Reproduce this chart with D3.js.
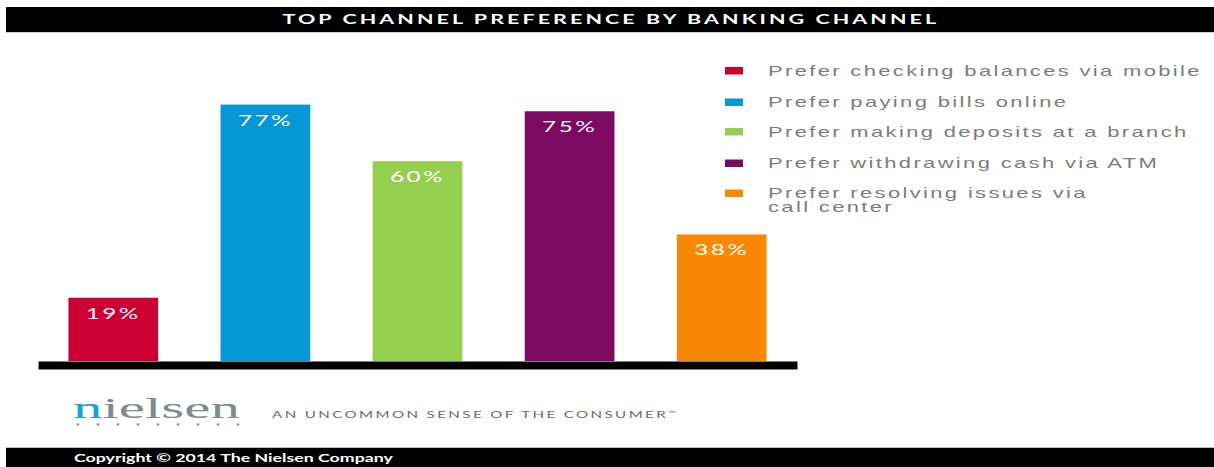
<!DOCTYPE html>
<html>
<head>
<meta charset="utf-8">
<script src="https://cdn.jsdelivr.net/npm/d3@7"></script>
<style>
  html, body { margin: 0; padding: 0; background: #fff; }
  svg { display: block; }
</style>
</head>
<body>
<svg id="chart" width="1214" height="467"></svg>
<script>
// ---- data ----
const title = "TOP CHANNEL PREFERENCE BY BANKING CHANNEL";
const categories = ["mobile", "online", "branch", "atm", "callcenter"];
const values = [19, 77, 60, 75, 38];
const legendLabels = [
  ["Prefer checking balances via mobile"],
  ["Prefer paying bills online"],
  ["Prefer making deposits at a branch"],
  ["Prefer withdrawing cash via ATM"],
  ["Prefer resolving issues via", "call center"]
];
const colors = ["#cc0033", "#0597d6", "#95cf4e", "#7c0a63", "#fa8804"];
const tagline = "AN UNCOMMON SENSE OF THE CONSUMER";
const copyright = "Copyright \u00A9 2014 The Nielsen Company";

// ---- setup ----
const svg = d3.select("#chart");
const W = 1214, H = 467;

// fit text horizontally to a target width by scaling x
function fitX(sel, x, y, width, anchor) {
  sel.attr("x", 0).attr("y", 0);
  const n = sel.node();
  const w = n.getComputedTextLength();
  const s = width / w;
  let tx = x;
  if (anchor === "middle") tx = x - width / 2;
  sel.attr("text-anchor", "start")
     .attr("transform", `translate(${tx},${y}) scale(${s},1)`);
}

// title bar
svg.append("rect").attr("x", 6).attr("y", 7).attr("width", W - 6).attr("height", 25).attr("fill", "#000");
svg.append("rect").attr("x", 6).attr("y", 32).attr("width", W - 6).attr("height", 1).attr("fill", "#cfcfcf");
const t = svg.append("text")
  .text(title)
  .attr("fill", "#fff")
  .style("font-family", "Lato, 'Open Sans', sans-serif")
  .style("font-weight", "700")
  .style("font-size", "14px")
  .style("letter-spacing", "2px");
fitX(t, 611, 24, 657, "middle");

// scales
const x = d3.scaleBand().domain(categories).range([38, 797]).paddingInner(0.41).paddingOuter(0.2);
const y = d3.scaleLinear().domain([0, 100]).range([361, 28]);

// bars
const g = svg.append("g");
g.selectAll("rect.bar")
  .data(categories)
  .join("rect")
  .attr("class", "bar")
  .attr("x", d => x(d))
  .attr("width", x.bandwidth())
  .attr("y", (d, i) => y(values[i]))
  .attr("height", (d, i) => y(0) - y(values[i]))
  .attr("fill", (d, i) => colors[i]);

// value labels
g.selectAll("text.val")
  .data(categories)
  .join("text")
  .attr("class", "val")
  .text((d, i) => values[i] + "%")
  .attr("fill", "#fff")
  .style("font-family", "Lato, 'Open Sans', sans-serif")
  .style("font-size", "15px")
  .style("letter-spacing", "1.5px")
  .each(function (d, i) {
    fitX(d3.select(this), x(d) + x.bandwidth() / 2, y(values[i]) + 21, 55, "middle");
  });

// baseline axis
const axis = d3.axisBottom(x).tickSize(0).tickSizeOuter(0).tickFormat("");
const ag = svg.append("g").attr("transform", `translate(0,${y(0) + 4})`).call(axis);
ag.select(".domain").attr("stroke", "#000").attr("stroke-width", 8);

// legend
const lg = svg.append("g");
const legendY = [70.5, 102, 131.5, 163, 193];
legendLabels.forEach((lines, i) => {
  lg.append("rect").attr("x", 725).attr("y", legendY[i] - 3.5).attr("width", 18).attr("height", 7.5).attr("fill", colors[i]);
  lines.forEach((line, j) => {
    lg.append("text")
      .text(line)
      .attr("fill", "#7c7c7c")
      .style("font-family", "'Liberation Sans', Arial, sans-serif")
      .style("font-size", "14px")
      .style("letter-spacing", "1.5px")
      .attr("transform", `translate(768,${legendY[i] + 5 + j * 13.5}) scale(1.57,1)`);
  });
});

// nielsen logo
const logo = svg.append("text")
  .style("font-family", "'Liberation Serif', 'DejaVu Serif', serif")
  .style("font-size", "29px");
logo.append("tspan").text("n").attr("fill", "#1a9fd9");
logo.append("tspan").text("ielsen").attr("fill", "#7d8a94");
fitX(logo, 73, 418, 167, "start");
const dots = d3.range(9);
svg.append("g").selectAll("circle")
  .data(dots)
  .join("circle")
  .attr("cx", d => 78 + d * 20)
  .attr("cy", 424.5)
  .attr("r", 1.3)
  .attr("fill", "#8a8a8a");

// tagline
const tg = svg.append("text")
  .attr("fill", "#6a6a6a")
  .style("font-family", "Lato, 'Open Sans', sans-serif")
  .style("font-size", "9.5px")
  .style("letter-spacing", "1.5px");
tg.append("tspan").text(tagline);
tg.append("tspan").text("\u2122").attr("dy", -3).style("font-size", "6px");
fitX(tg, 272, 418, 406, "start");

// bottom bar
svg.append("rect").attr("x", 6).attr("y", 447).attr("width", W - 6).attr("height", 1).attr("fill", "#bdbdbd");
svg.append("rect").attr("x", 6).attr("y", 448).attr("width", W - 6).attr("height", H - 448).attr("fill", "#000");
const cp = svg.append("text")
  .text(copyright)
  .attr("fill", "#fff")
  .style("font-family", "Lato, 'Open Sans', sans-serif")
  .style("font-weight", "700")
  .style("font-size", "11px");
fitX(cp, 74, 462, 319, "start");
</script>
</body>
</html>
